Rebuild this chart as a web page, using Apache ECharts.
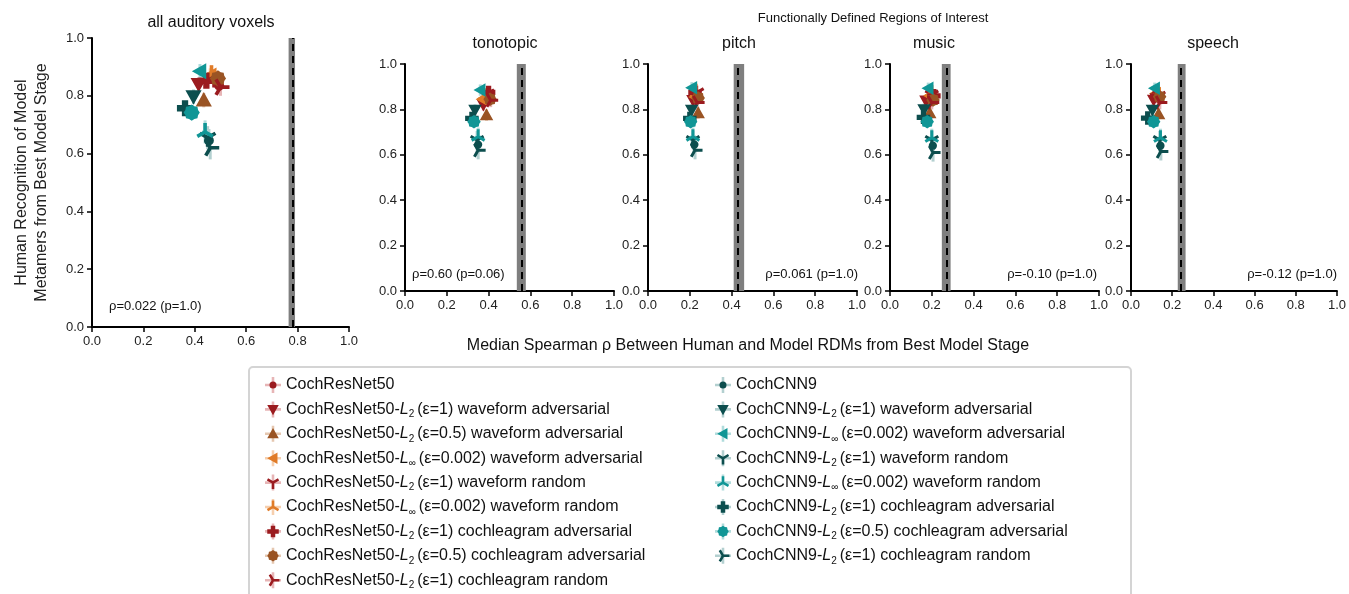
<!DOCTYPE html>
<html lang="en">

<head>
  <meta charset="UTF-8" />
  <title>Metamer recognition vs RDM similarity</title>
  <script src="https://cdn.jsdelivr.net/npm/echarts@6/dist/echarts.min.js"></script>
  <style>
    html, body { margin: 0; padding: 0; background: #fff; }
  </style>
</head>

<body>
  <div id="main" style="width: 1349px;height:594px;"></div>
  <script type="text/javascript">
    // model names (legend order)
    const models = [
      'CochResNet50',
      'CochResNet50-L2(ε=1) waveform adversarial',
      'CochResNet50-L2(ε=0.5) waveform adversarial',
      'CochResNet50-L∞(ε=0.002) waveform adversarial',
      'CochResNet50-L2(ε=1) waveform random',
      'CochResNet50-L∞(ε=0.002) waveform random',
      'CochResNet50-L2(ε=1) cochleagram adversarial',
      'CochResNet50-L2(ε=0.5) cochleagram adversarial',
      'CochResNet50-L2(ε=1) cochleagram random',
      'CochCNN9',
      'CochCNN9-L2(ε=1) waveform adversarial',
      'CochCNN9-L∞(ε=0.002) waveform adversarial',
      'CochCNN9-L2(ε=1) waveform random',
      'CochCNN9-L∞(ε=0.002) waveform random',
      'CochCNN9-L2(ε=1) cochleagram adversarial',
      'CochCNN9-L2(ε=0.5) cochleagram adversarial',
      'CochCNN9-L2(ε=1) cochleagram random'
    ]

    // panel titles
    const panelTitles = ['all auditory voxels', 'tonotopic', 'pitch', 'music', 'speech']

    // x: median Spearman rho between human and model RDMs (one array per panel)
    const xAll = [0.495, 0.415, 0.435, 0.46, 0.475, 0.465, 0.445, 0.49, 0.50, 0.455, 0.395, 0.42, 0.45, 0.44, 0.362, 0.388, 0.46]
    const xTono = [0.40, 0.375, 0.39, 0.37, 0.395, 0.38, 0.40, 0.407, 0.41, 0.35, 0.335, 0.36, 0.345, 0.35, 0.32, 0.33, 0.35]
    const xPitch = [0.23, 0.215, 0.24, 0.225, 0.235, 0.23, 0.225, 0.24, 0.235, 0.222, 0.209, 0.21, 0.215, 0.215, 0.2, 0.204, 0.225]
    const xMusic = [0.21, 0.172, 0.19, 0.19, 0.2, 0.2, 0.21, 0.206, 0.2, 0.205, 0.163, 0.183, 0.2, 0.2, 0.16, 0.178, 0.206]
    const xSpeech = [0.14, 0.11, 0.134, 0.12, 0.135, 0.13, 0.125, 0.139, 0.14, 0.143, 0.104, 0.115, 0.14, 0.143, 0.081, 0.11, 0.145]

    // y: human recognition of model metamers (one array per panel)
    const yAll = [0.835, 0.84, 0.785, 0.87, 0.86, 0.875, 0.852, 0.86, 0.83, 0.645, 0.797, 0.885, 0.655, 0.675, 0.757, 0.742, 0.62]
    const yTono = [0.855, 0.82, 0.775, 0.845, 0.87, 0.86, 0.875, 0.845, 0.84, 0.645, 0.797, 0.885, 0.665, 0.68, 0.76, 0.746, 0.62]
    const yPitch = [0.86, 0.84, 0.784, 0.855, 0.875, 0.88, 0.875, 0.85, 0.83, 0.645, 0.797, 0.895, 0.665, 0.68, 0.76, 0.746, 0.62]
    const yMusic = [0.855, 0.838, 0.784, 0.86, 0.865, 0.875, 0.86, 0.841, 0.83, 0.64, 0.80, 0.893, 0.665, 0.675, 0.765, 0.746, 0.61]
    const ySpeech = [0.85, 0.841, 0.78, 0.87, 0.86, 0.875, 0.86, 0.856, 0.83, 0.64, 0.797, 0.893, 0.665, 0.675, 0.762, 0.746, 0.615]

    // error bar half-widths (per model)
    const xErr = [0.015, 0.012, 0.012, 0.012, 0.015, 0.015, 0.012, 0.015, 0.015, 0.012, 0.012, 0.012, 0.012, 0.012, 0.012, 0.012, 0.012]
    const yErr = [0.03, 0.025, 0.025, 0.025, 0.03, 0.03, 0.025, 0.025, 0.03, 0.04, 0.025, 0.025, 0.04, 0.04, 0.025, 0.025, 0.04]

    // noise ceiling (dashed line) and its band, per panel
    const ceiling = [0.779, 0.556, 0.435, 0.268, 0.245]
    const ceilLo = [0.765, 0.535, 0.41, 0.248, 0.227]
    const ceilHi = [0.790, 0.578, 0.46, 0.29, 0.265]

    // stats text per panel
    const statText = ['ρ=0.022 (p=1.0)', 'ρ=0.60 (p=0.06)', 'ρ=0.061 (p=1.0)', 'ρ=-0.10 (p=1.0)', 'ρ=-0.12 (p=1.0)']

    const panelX = [xAll, xTono, xPitch, xMusic, xSpeech]
    const panelY = [yAll, yTono, yPitch, yMusic, ySpeech]

    const FONT = "'Liberation Sans', Arial, sans-serif"

    // colours
    const RED = '#9b1b1f', BROWN = '#9a5424', ORANGE = '#e07b28', DTEAL = '#0c4e4e', TEAL = '#109696'
    const light = { [RED]: '#e7b5b6', [BROWN]: '#e5c7b0', [ORANGE]: '#f6cfae', [DTEAL]: '#b3d0d0', [TEAL]: '#b0dcdc' }
    const colors = [RED, RED, BROWN, ORANGE, RED, ORANGE, RED, BROWN, RED,
      DTEAL, DTEAL, TEAL, DTEAL, TEAL, DTEAL, TEAL, DTEAL]

    // marker shapes; tiny corner specks keep each path box square and centred,
    // a bigger box makes the shape smaller inside the same symbol size
    const box = b => ` M${-b},${-b} L${-b},${-b + 0.1} L${-b + 0.1},${-b} Z M${b},${b} L${b},${b - 0.1} L${b - 0.1},${b} Z`
    function arms(angles) {
      const w = 2, L = 10
      return angles.map(function (a) {
        const r = a * Math.PI / 180, dx = Math.cos(r), dy = -Math.sin(r)
        const nx = -dy * w, ny = dx * w
        const pts = [[nx - dx, ny - dy], [nx + dx * L, ny + dy * L], [-nx + dx * L, -ny + dy * L], [-nx - dx, -ny - dy]]
        return 'M' + pts.map(p => p[0].toFixed(2) + ',' + p[1].toFixed(2)).join(' L') + ' Z'
      }).join(' ')
    }
    function star(n, r1, r2) {
      let s = ''
      for (let i = 0; i < 2 * n; i++) {
        const r = i % 2 ? r2 : r1, a = Math.PI * i / n
        s += (i ? ' L' : 'M') + (r * Math.cos(a)).toFixed(2) + ',' + (r * Math.sin(a)).toFixed(2)
      }
      return s + ' Z'
    }
    const bodies = [
      'M-5.5,0 A5.5,5.5 0 1,0 5.5,0 A5.5,5.5 0 1,0 -5.5,0 Z',
      'M-9,-7 L9,-7 L0,9 Z',
      'M-9,7 L9,7 L0,-9 Z',
      'M7,-9 L7,9 L-9,0 Z',
      arms([270, 30, 150]),
      arms([90, 210, 330]),
      'M-3.5,-9 L3.5,-9 L3.5,-3.5 L9,-3.5 L9,3.5 L3.5,3.5 L3.5,9 L-3.5,9 L-3.5,3.5 L-9,3.5 L-9,-3.5 L-3.5,-3.5 Z',
      star(8, 9, 7.6),
      arms([0, 120, 240])
    ]
    const shapeOf = [0, 1, 2, 3, 4, 5, 6, 7, 8, 0, 1, 3, 4, 5, 6, 7, 8]
    const modelShape = shapeOf.map(i => 'path://' + bodies[i] + box(10))
    const legendShape = shapeOf.map(i => 'path://' + bodies[i] + box(12.5))
    const CROSS = 'path://M-1.6,-10 L1.6,-10 L1.6,10 L-1.6,10 Z M-10,-1.6 L10,-1.6 L10,1.6 L-10,1.6 Z'

    // layout of the five panels
    const grids = [
      { left: 92, top: 38, width: 257, height: 289 },
      { left: 405, top: 64, width: 209, height: 227 },
      { left: 648, top: 64, width: 209, height: 227 },
      { left: 890, top: 64, width: 209, height: 227 },
      { left: 1131, top: 64, width: 209, height: 227 }
    ]
    const markerSize = [18, 15, 15, 15, 15]

    const axisCommon = {
      min: 0, max: 1, interval: 0.2,
      axisLine: { show: true, onZero: false, lineStyle: { color: '#000', width: 2 } },
      axisTick: { show: true, length: 5, lineStyle: { color: '#000', width: 1.5 } },
      axisLabel: { color: '#222', fontSize: 13, fontFamily: FONT, margin: 8, formatter: v => v.toFixed(1) },
      splitLine: { show: false }
    }

    const xAxes = grids.map((g, i) => Object.assign({ type: 'value', gridIndex: i }, axisCommon))
    const yAxes = grids.map((g, i) => Object.assign({ type: 'value', gridIndex: i }, axisCommon))
    yAxes[0].name = 'Human Recognition of Model\nMetamers from Best Model Stage'
    yAxes[0].nameLocation = 'middle'
    yAxes[0].nameRotate = 90
    yAxes[0].nameGap = 40
    yAxes[0].nameTextStyle = { color: '#222', fontSize: 16, lineHeight: 20, fontFamily: FONT }

    const series = []
    grids.forEach(function (g, p) {
      // noise ceiling band + dashed line
      series.push({
        type: 'line', xAxisIndex: p, yAxisIndex: p, data: [], silent: true,
        markArea: { silent: true, itemStyle: { color: '#7f7f7f' }, data: [[{ xAxis: ceilLo[p] }, { xAxis: ceilHi[p] }]] },
        markLine: {
          silent: true, symbol: 'none', label: { show: false },
          lineStyle: { color: '#000', type: [7, 5], width: 2 },
          data: [{ xAxis: ceiling[p] }]
        }
      })
      // error bars
      series.push({
        type: 'custom', xAxisIndex: p, yAxisIndex: p, silent: true, z: 1,
        data: models.map((m, i) => [panelX[p][i], panelY[p][i], xErr[i], yErr[i], i]),
        renderItem: function (params, api) {
          const x = api.value(0), y = api.value(1), ex = api.value(2), ey = api.value(3)
          const c = light[colors[api.value(4)]]
          const a = api.coord([x - ex, y]), b = api.coord([x + ex, y])
          const u = api.coord([x, y + ey]), d = api.coord([x, y - ey])
          return {
            type: 'group', children: [
              { type: 'line', shape: { x1: a[0], y1: a[1], x2: b[0], y2: b[1] }, style: { stroke: c, lineWidth: 3 } },
              { type: 'line', shape: { x1: u[0], y1: u[1], x2: d[0], y2: d[1] }, style: { stroke: c, lineWidth: 3 } }
            ]
          }
        }
      })
      // markers, one series per model
      models.forEach(function (m, i) {
        series.push({
          name: m, type: 'scatter', xAxisIndex: p, yAxisIndex: p, z: 3,
          symbol: modelShape[i], symbolSize: markerSize[p],
          itemStyle: { color: colors[i], opacity: 1 },
          data: [[panelX[p][i], panelY[p][i]]]
        })
      })
    })

    function legendFmt(name) {
      return name.replace(/-L(2|∞)/, (m, s) => '-{i|L}{s|' + s + '}')
    }
    const legendText = {
      color: '#111', fontSize: 16, fontFamily: FONT, lineHeight: 20,
      rich: {
        i: { fontStyle: 'italic', fontSize: 16, fontFamily: FONT, color: '#111', lineHeight: 20 },
        s: { fontSize: 10, fontFamily: FONT, color: '#111', verticalAlign: 'bottom', lineHeight: 14, padding: [0, 3, 0, 0] }
      }
    }
    const legendCommon = {
      orient: 'vertical', top: 375, padding: 0, itemWidth: 16, itemHeight: 16, itemGap: 4.4,
      selectedMode: false, textStyle: legendText, formatter: legendFmt, z: 5
    }
    // light error-bar crosses drawn behind the legend markers, same row layout
    const crossCommon = Object.assign({}, legendCommon, {
      textStyle: { fontSize: 16, fontFamily: FONT, lineHeight: 20, color: 'rgba(0,0,0,0)' }, formatter: () => 'C', z: 4
    })
    const crossData = (from, to) => models.slice(from, to).map((m, k) => ({
      name: m, icon: CROSS, itemStyle: { color: light[colors[from + k]] }
    }))
    const markData = (from, to) => models.slice(from, to).map((m, k) => ({
      name: m, icon: legendShape[from + k]
    }))

    const texts = [
      { x: 211, y: 23, t: panelTitles[0], s: 16 },
      { x: 873, y: 18, t: 'Functionally Defined Regions of Interest', s: 13 },
      { x: 505, y: 44, t: panelTitles[1], s: 16 },
      { x: 739, y: 44, t: panelTitles[2], s: 16 },
      { x: 934, y: 44, t: panelTitles[3], s: 16 },
      { x: 1213, y: 44, t: panelTitles[4], s: 16 },
      { x: 748, y: 346, t: 'Median Spearman ρ Between Human and Model RDMs from Best Model Stage', s: 16 }
    ]
    const statPos = [
      { x: 109, y: 306, a: 'left' },
      { x: 412, y: 274, a: 'left' },
      { x: 858, y: 274, a: 'right' },
      { x: 1097, y: 274, a: 'right' },
      { x: 1337, y: 274, a: 'right' }
    ]

    const graphic = texts.map(t => ({
      type: 'text', x: t.x, y: t.y,
      style: { text: t.t, fill: '#111', font: t.s + 'px ' + FONT, align: 'center', verticalAlign: 'middle' }
    })).concat(statPos.map((s, i) => ({
      type: 'text', x: s.x, y: s.y,
      style: { text: statText[i], fill: '#111', font: '13px ' + FONT, align: s.a, verticalAlign: 'middle' }
    }))).concat([{
      type: 'rect', shape: { x: 249, y: 367, width: 882, height: 240, r: 4 },
      style: { fill: 'none', stroke: '#d4d4d4', lineWidth: 2 }
    }])

    var myChart = echarts.init(document.getElementById('main'))
    myChart.setOption({
      animation: false,
      grid: grids,
      xAxis: xAxes,
      yAxis: yAxes,
      legend: [
        Object.assign({ left: 265, data: crossData(0, 9) }, crossCommon),
        Object.assign({ left: 715, data: crossData(9, 17) }, crossCommon),
        Object.assign({ left: 265, data: markData(0, 9) }, legendCommon),
        Object.assign({ left: 715, data: markData(9, 17) }, legendCommon)
      ],
      graphic: graphic,
      series: series
    })
  </script>
</body>

</html>
